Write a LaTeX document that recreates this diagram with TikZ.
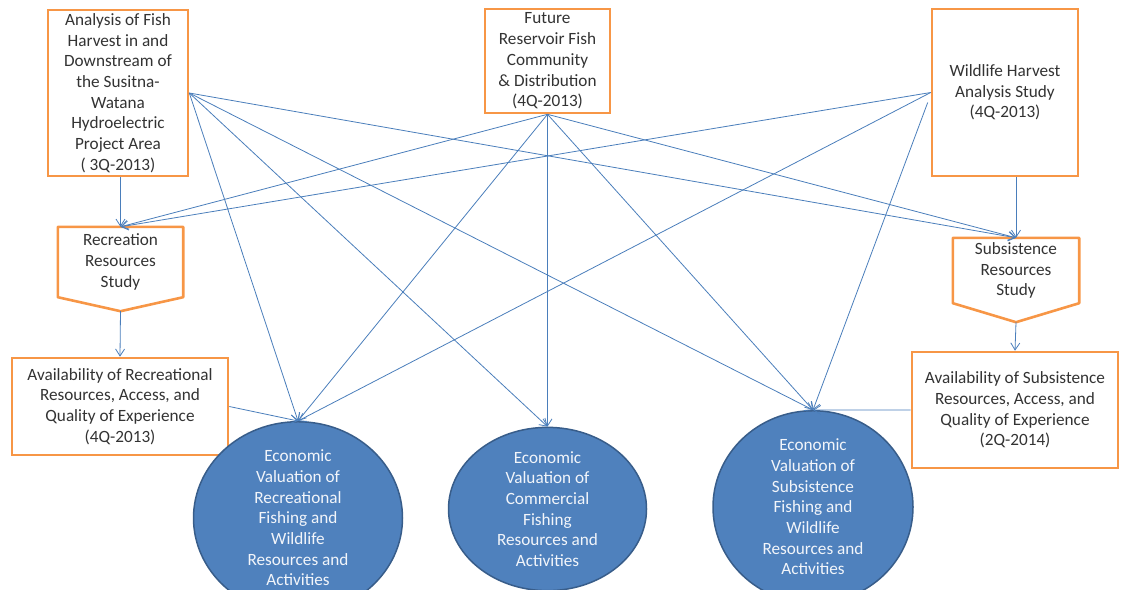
\documentclass[tikz,border=0pt]{standalone}
\usepackage{fontspec}
\setmainfont{Carlito}
\usetikzlibrary{arrows.meta,calc,shapes.geometric}
\definecolor{boxorange}{HTML}{F79646}
\definecolor{linkblue}{HTML}{4A7EBB}
\definecolor{ovalfill}{HTML}{4F81BD}
\definecolor{ovaldraw}{HTML}{385D8A}
\definecolor{ovaltext}{HTML}{F2F5FA}
\begin{document}
\begin{tikzpicture}[x=1pt,y=-1pt,
  every node/.style={font=\fontsize{17.2}{20.7}\selectfont, align=center, inner sep=0pt},
  studybox/.style={draw=boxorange, line width=2.6pt, fill=white, text=black!80},
  plainbox/.style={text=black!80},
  oval/.style={ellipse, draw=ovaldraw, line width=1.5pt, fill=ovalfill, text=ovaltext},
  link/.style={draw=linkblue, line width=0.8pt, -{Straight Barb[length=7pt,width=9pt]}}]
\useasboundingbox (0,0) rectangle (1121,589);

% top row of studies
\node[studybox, minimum width=140, minimum height=166] (A) at (118,93)
  {Analysis of Fish\\Harvest in and\\Downstream of\\the Susitna-\\Watana\\Hydroelectric\\Project Area\\( 3Q-2013)};
\node[studybox, minimum width=125, minimum height=104] (B) at (547.5,61)
  {Future\\Reservoir Fish\\Community\\\& Distribution\\(4Q-2013)};
\node[studybox, minimum width=146, minimum height=167] (C) at (1005,92.5)
  {Wildlife Harvest\\Analysis Study\\(4Q-2013)};

% pentagon-shaped resource studies
\node[plainbox, minimum width=125, minimum height=70] (rec) at (120.5,262)
  {Recreation\\Resources\\Study};
\coordinate (recTip) at ($(rec.south)+(0,14)$);
\draw[draw=boxorange, line width=2.6pt, line join=round]
  (rec.north west) -- (rec.north east) -- (rec.south east) -- (recTip)
  -- (rec.south west) -- cycle;
\node[plainbox, minimum width=126, minimum height=65] (sub) at (1016,270.5)
  {Subsistence\\Resources\\Study};
\coordinate (subTip) at ($(sub.south)+(0,19)$);
\draw[draw=boxorange, line width=2.6pt, line join=round]
  (sub.north west) -- (sub.north east) -- (sub.south east) -- (subTip)
  -- (sub.south west) -- cycle;

% availability studies
\node[studybox, minimum width=216, minimum height=97] (arec) at (120,406.5)
  {Availability of Recreational\\Resources, Access, and\\Quality of Experience\\(4Q-2013)};
\node[studybox, minimum width=206, minimum height=116] (asub) at (1015,410)
  {Availability of Subsistence\\Resources, Access, and\\Quality of Experience\\(2Q-2014)};

% economic valuations
\node[oval, minimum width=209, minimum height=146] (e1) at (298,518)
  {Economic\\Valuation of\\Recreational\\Fishing and\\Wildlife\\Resources and\\Activities};
\node[oval, minimum width=198, minimum height=148] (e2) at (547.5,509)
  {Economic\\Valuation of\\Commercial\\Fishing\\Resources and\\Activities};
\node[oval, minimum width=200, minimum height=153] (e3) at (813,507)
  {Economic\\Valuation of\\Subsistence\\Fishing and\\Wildlife\\Resources and\\Activities};

% links
\draw[link] (rec.north |- A.south) -- (rec.north);
\draw[link] (sub.north |- C.south) -- (sub.north);
\draw[link] (recTip) -- (arec.north);
\draw[link] (subTip) -- (asub.north);

\draw[link] (A.east) -- (sub.north);
\draw[link] (A.east) -- (e3.north);
\draw[link] (A.east) -- (e2.north);
\draw[link] (A.east) -- (e1.north);

\draw[link] (B.south) -- (rec.north);
\draw[link] (B.south) -- (e1.north);
\draw[link] (B.south) -- (e2.north);
\draw[link] (B.south) -- (e3.north);
\draw[link] (B.south) -- (sub.north);

\draw[link] (C.west) -- (rec.north);
\draw[link] (C.west) -- (e1.north);
\draw[link] ([xshift=-3pt,yshift=-10pt]C.west) -- (e3.north);

\draw[link] (arec.east) -- (e1.north);
\draw[link] (asub.west) -- (e3.north);
\end{tikzpicture}
\end{document}
